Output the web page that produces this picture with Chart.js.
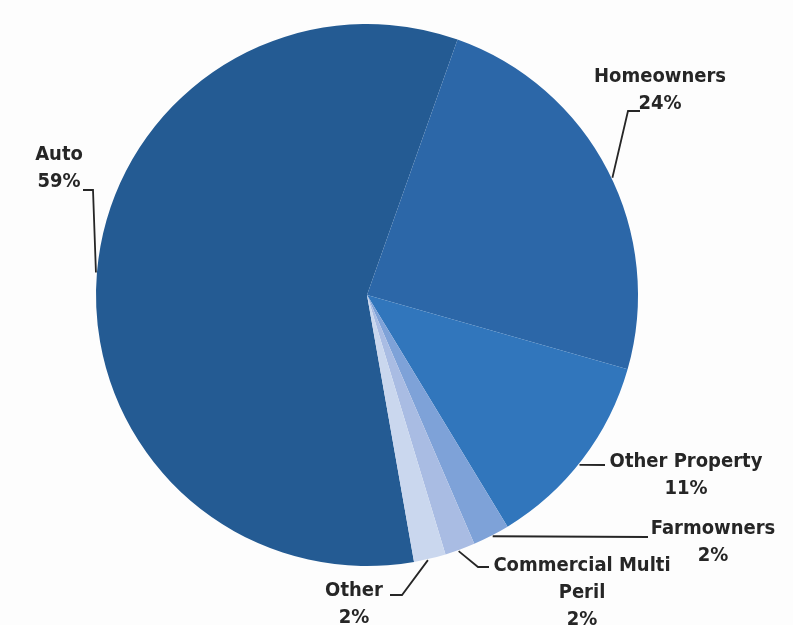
<!DOCTYPE html>
<html>
<head>
<meta charset="utf-8">
<script src="https://cdn.jsdelivr.net/npm/chart.js@4/dist/chart.umd.min.js"></script>
<style>
    html, body { margin: 0; padding: 0; background: #fdfdfd; }
    canvas { display: block; }
</style>
</head>
<body>
<canvas id="pieChart" width="793" height="625"></canvas>
<script>
// Chart data
const categories = ['Auto', 'Homeowners', 'Other Property', 'Farmowners', 'Commercial Multi\nPeril', 'Other'];
const shares = [58.2, 24.0, 11.9, 2.2, 1.8, 1.9];       // slice sizes as drawn
const labelPercents = [59, 24, 11, 2, 2, 2];             // percentages printed on the labels
const sliceColors = ['#245b93', '#2c67a8', '#3176bc', '#7ea2d8', '#a9bce3', '#cad7ee'];

// Label placement: where the leader leaves the slice (fraction of its arc),
// the elbow points of the leader, and the text centre
const labelLayout = [
    { f: 0.50, path: [[93, 190], [83, 190]], text: [59, 155] },
    { f: 0.52, path: [[628, 111], [640, 111]], text: [660, 77] },
    { f: 0.53, path: [[605, 465]], text: [686, 462] },
    { f: 0.47, path: [[648, 537]], text: [713, 529] },
    { f: 0.56, path: [[478, 567], [489, 567]], text: [582, 566] },
    { f: 0.57, path: [[402, 595], [390, 595]], text: [354, 591] }
];

// Draw leader lines and labels on top of the pie
const leaderLabels = {
    id: 'leaderLabels',
    afterDraw(chart) {
        const ctx = chart.ctx;
        const meta = chart.getDatasetMeta(0);
        ctx.save();
        ctx.strokeStyle = '#262626';
        ctx.lineWidth = 1.8;
        ctx.fillStyle = '#262626';
        ctx.font = 'bold 20px "DejaVu Sans Condensed", "DejaVu Sans", sans-serif';
        ctx.textAlign = 'center';
        ctx.textBaseline = 'middle';

        meta.data.forEach((arc, i) => {
            const p = arc.getProps(['x', 'y', 'startAngle', 'endAngle', 'outerRadius'], true);
            const lay = labelLayout[i];
            const a = p.startAngle + lay.f * (p.endAngle - p.startAngle);
            const sx = p.x + (p.outerRadius + 1) * Math.cos(a);
            const sy = p.y + (p.outerRadius + 1) * Math.sin(a);

            ctx.beginPath();
            ctx.moveTo(sx, sy);
            lay.path.forEach(pt => ctx.lineTo(pt[0], pt[1]));
            ctx.stroke();

            const lines = categories[i].split('\n').concat([labelPercents[i] + '%']);
            lines.forEach((line, k) => {
                ctx.fillText(line, lay.text[0], lay.text[1] + k * 27);
            });
        });
        ctx.restore();
    }
};

const ctx = document.getElementById('pieChart').getContext('2d');
new Chart(ctx, {
    type: 'pie',
    data: {
        labels: categories,
        datasets: [{
            data: shares,
            backgroundColor: sliceColors,
            borderWidth: 0
        }]
    },
    options: {
        responsive: false,
        animation: false,
        rotation: 170,
        layout: {
            padding: { left: 96, right: 155, top: 24, bottom: 59 }
        },
        plugins: {
            legend: { display: false },
            tooltip: { enabled: false }
        }
    },
    plugins: [leaderLabels]
});
</script>
</body>
</html>
